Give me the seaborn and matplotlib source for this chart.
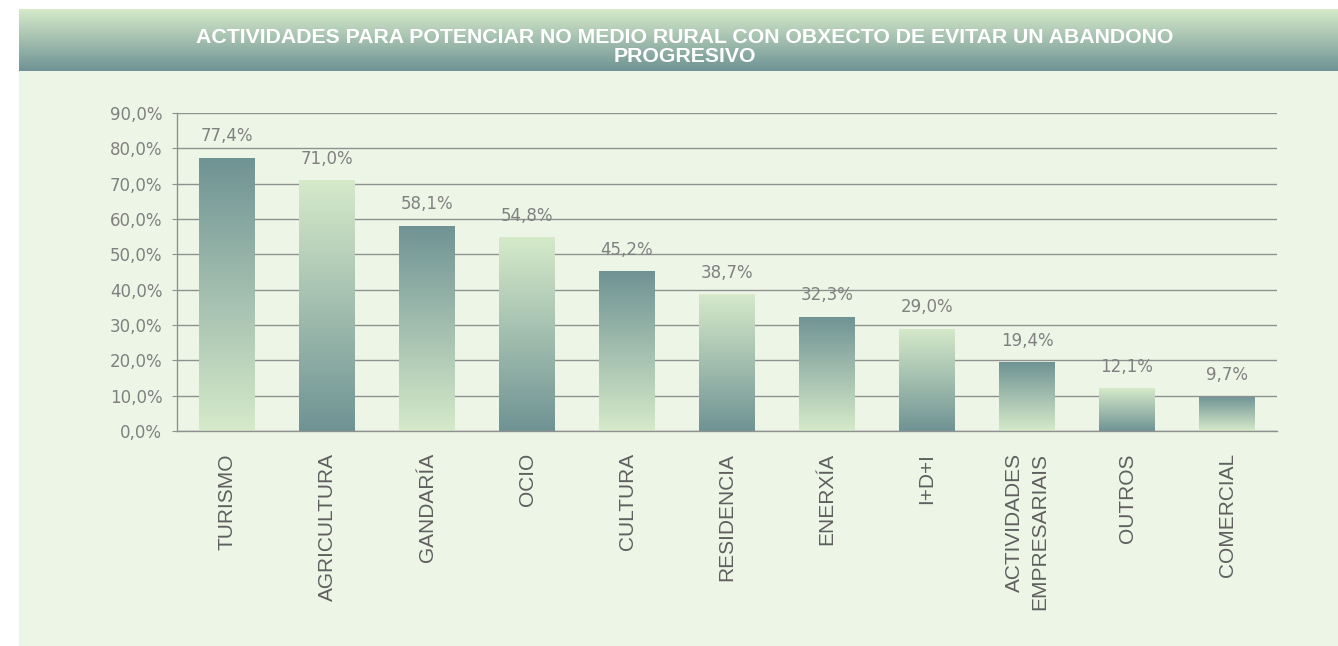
import matplotlib
matplotlib.use("Agg")
import matplotlib.pyplot as plt
import matplotlib.colors as mcolors
import numpy as np
import pandas as pd
import seaborn as sns

# Data
categories = ["TURISMO", "AGRICULTURA", "GANDARÍA", "OCIO", "CULTURA", "RESIDENCIA",
              "ENERXÍA", "I+D+I", "ACTIVIDADES\nEMPRESARIAIS", "OUTROS", "COMERCIAL"]
values = [77.4, 71.0, 58.1, 54.8, 45.2, 38.7, 32.3, 29.0, 19.4, 12.1, 9.7]
y_ticks = [0, 10, 20, 30, 40, 50, 60, 70, 80, 90]
title = "ACTIVIDADES PARA POTENCIAR NO MEDIO RURAL CON OBXECTO DE EVITAR UN ABANDONO\nPROGRESIVO"

df = pd.DataFrame({"categoria": categories, "valor": values})

light = "#d6eaca"
dark = "#6f9394"
panel_bg = "#edf5e6"
grid_col = "#8f9090"
num_col = "#808080"
cat_col = "#5f5f5f"

W, H = 1338, 646
fig = plt.figure(figsize=(W / 100, H / 100), dpi=100)
fig.patch.set_facecolor("white")

# light green panel (its own axes so it sits under everything)
bg = fig.add_axes([19 / W, 0, 1 - 19 / W, 1 - 9 / H], zorder=-5)
bg.set_facecolor(panel_bg)
bg.set_xticks([])
bg.set_yticks([])
for s in bg.spines.values():
    s.set_visible(False)

# title banner with vertical gradient
ban = fig.add_axes([19 / W, 1 - 71 / H, 1 - 19 / W, 62 / H], zorder=-4)
ban_cmap = mcolors.LinearSegmentedColormap.from_list("ban", [dark, light])
ban.imshow(np.linspace(0, 1, 256).reshape(-1, 1), cmap=ban_cmap, aspect="auto",
           origin="lower", extent=[0, 1, 0, 1])
ban.axis("off")
fig.text(685 / W, 1 - 47 / H, title, ha="center", va="center", color="white",
         fontsize=15.3, fontweight="bold", family="Liberation Sans", linespacing=0.95)

# main chart
ax = fig.add_axes([177 / W, 1 - 431 / H, 1100 / W, 318 / H])
ax.set_facecolor("none")
sns.barplot(data=df, x="categoria", y="valor", ax=ax, width=0.56, color=dark,
            saturation=1, errorbar=None)
ax.set_ylim(0, 90)
xlim = ax.get_xlim()

cmap = mcolors.LinearSegmentedColormap.from_list("bar", [light, dark])
grad = np.linspace(0, 1, 256).reshape(-1, 1)
for i, p in enumerate(ax.patches):
    x0, w, h = p.get_x(), p.get_width(), p.get_height()
    g = grad if i % 2 == 0 else grad[::-1]
    p.set_facecolor("none")
    p.set_edgecolor("none")
    im = ax.imshow(g, cmap=cmap, aspect="auto", origin="lower",
                   extent=[x0, x0 + w, 0, h], zorder=2)
    im.set_clip_path(p)
    ax.annotate(f"{values[i]:.1f}%".replace(".", ","), (x0 + w / 2, h),
                xytext=(0, 9), textcoords="offset points", ha="center",
                va="bottom", color=num_col, fontsize=12, family="DejaVu Sans")

ax.set_xlim(xlim)
ax.set_ylim(0, 90)
ax.set_yticks(y_ticks)
ax.set_yticklabels([f"{t:.1f}%".replace(".", ",") for t in y_ticks],
                   color=num_col, fontsize=12, family="DejaVu Sans")
ax.yaxis.grid(True, color=grid_col, linewidth=1)
ax.set_axisbelow(True)
ax.tick_params(axis="y", length=3.6, color=grid_col, pad=7)
ax.tick_params(axis="x", length=0, pad=16)
for lab in ax.get_xticklabels():
    lab.set_rotation(90)
    lab.set_va("top")
    lab.set_ha("center")
    lab.set_multialignment("right")
    lab.set_linespacing(1.45)
    lab.set_color(cat_col)
    lab.set_fontsize(15)
    lab.set_family("Liberation Sans")
ax.set_xlabel("")
ax.set_ylabel("")
for s in ["top", "right"]:
    ax.spines[s].set_visible(False)
for s in ["left", "bottom"]:
    ax.spines[s].set_color(grid_col)
    ax.spines[s].set_linewidth(1)

fig.savefig("out.png", dpi=100)
